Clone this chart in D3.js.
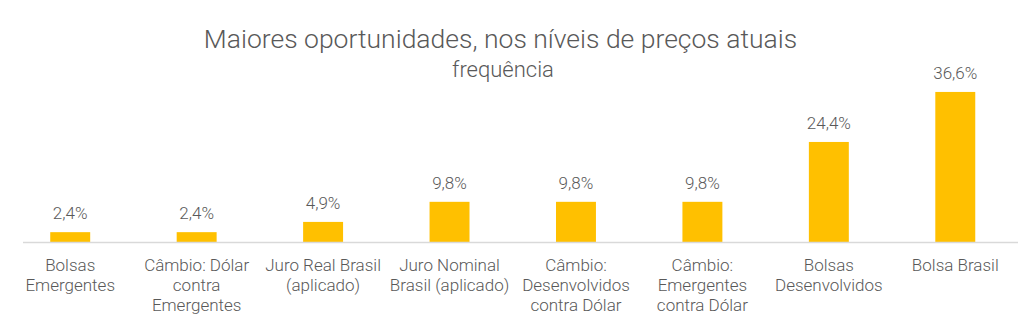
<!DOCTYPE html>
<html>
<head>
<meta charset="utf-8">
<script src="https://cdn.jsdelivr.net/npm/d3@7"></script>
<style>
  html, body { margin: 0; padding: 0; background: #fff; }
  svg { display: block; font-family: Roboto, "Noto Sans", sans-serif; }
</style>
</head>
<body>
<svg id="chart" width="1024" height="326"></svg>
<script>
const title = "Maiores oportunidades, nos níveis de preços atuais";
const subtitle = "frequência";
const categories = [
  "Bolsas\nEmergentes",
  "Câmbio: Dólar\ncontra\nEmergentes",
  "Juro Real Brasil\n(aplicado)",
  "Juro Nominal\nBrasil (aplicado)",
  "Câmbio:\nDesenvolvidos\ncontra Dólar",
  "Câmbio:\nEmergentes\ncontra Dólar",
  "Bolsas\nDesenvolvidos",
  "Bolsa Brasil"
];
const values = [2.4, 2.4, 4.9, 9.8, 9.8, 9.8, 24.4, 36.6];
const valueLabels = ["2,4%", "2,4%", "4,9%", "9,8%", "9,8%", "9,8%", "24,4%", "36,6%"];

const svg = d3.select("#chart");
const baseY = 242;

const x = d3.scaleBand().domain(categories).range([7, 1018.5]).paddingInner(0.684).paddingOuter(0.342);
const y = d3.scaleLinear().domain([0, 40]).range([baseY, baseY - 164]);

svg.append("text")
  .attr("x", 500.5).attr("y", 47.5)
  .attr("text-anchor", "middle")
  .attr("font-size", 26.5).attr("font-weight", 300)
  .attr("fill", "#595959")
  .text(title);

svg.append("text")
  .attr("x", 503).attr("y", 77)
  .attr("text-anchor", "middle")
  .attr("font-size", 22).attr("font-weight", 300)
  .attr("fill", "#595959")
  .text(subtitle);

svg.selectAll("rect.bar").data(values).enter().append("rect")
  .attr("class", "bar")
  .attr("x", (d, i) => x(categories[i]))
  .attr("width", x.bandwidth())
  .attr("y", d => y(d))
  .attr("height", d => y(0) - y(d))
  .attr("fill", "#FFC000");

svg.append("line")
  .attr("x1", 23).attr("x2", 1018)
  .attr("y1", baseY + 0.5).attr("y2", baseY + 0.5)
  .attr("stroke", "#D9D9D9").attr("stroke-width", 1.5);

svg.selectAll("text.val").data(values).enter().append("text")
  .attr("class", "val")
  .attr("x", (d, i) => x(categories[i]) + x.bandwidth() / 2)
  .attr("y", d => y(d) - 13)
  .attr("text-anchor", "middle")
  .attr("font-size", 17).attr("font-weight", 300)
  .attr("fill", "#595959")
  .text((d, i) => valueLabels[i]);

const cat = svg.selectAll("text.cat").data(categories).enter().append("text")
  .attr("class", "cat")
  .attr("text-anchor", "middle")
  .attr("font-size", 17).attr("font-weight", 300)
  .attr("fill", "#595959");
cat.each(function(d) {
  const t = d3.select(this);
  const cx = x(d) + x.bandwidth() / 2;
  d.split("\n").forEach((line, j) => {
    t.append("tspan").attr("x", cx).attr("y", 271 + j * 20).text(line);
  });
});
</script>
</body>
</html>
